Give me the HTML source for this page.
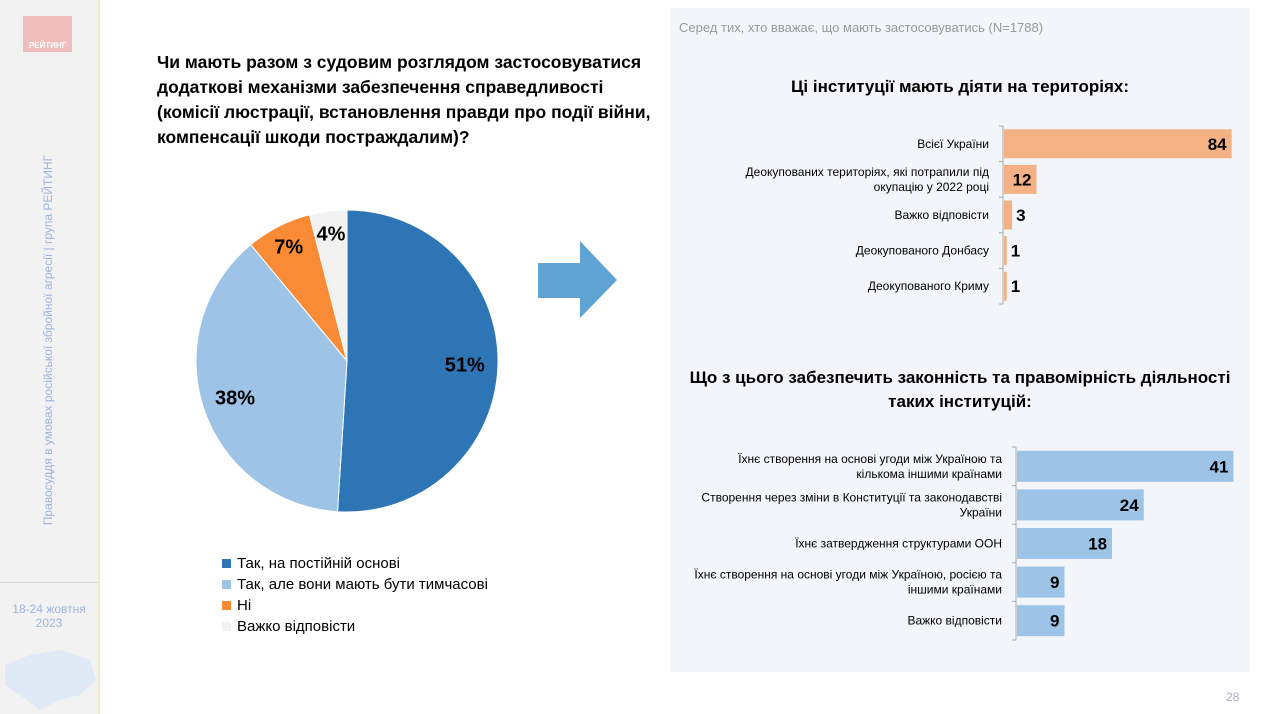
<!DOCTYPE html>
<html><head><meta charset="utf-8"><style>
body{margin:0;width:1271px;height:714px;position:relative;background:#fff;font-family:"Liberation Sans",sans-serif;overflow:hidden}
.abs{position:absolute}
</style></head><body>
<div class="abs" style="left:0;top:0;width:98px;height:714px;background:#f2f2f2;border-right:2px solid #fbe3c8"></div>
<div class="abs" style="left:23px;top:16px;width:49px;height:36px;background:#f0bcbc;color:#fff;font-size:8px;font-weight:bold;text-align:center;line-height:60px">РЕЙТИНГ</div>
<div class="abs" style="left:48px;top:340px;width:380px;transform:translate(-50%,-50%) rotate(-90deg);color:#9db3e0;font-size:12px;white-space:nowrap;text-align:center">Правосуддя в умовах російської збройної агресії | група РЕЙТИНГ</div>
<div class="abs" style="left:0;top:582px;width:98px;border-top:1px solid #d8d8d8"></div>
<div class="abs" style="left:0;top:602px;width:98px;text-align:center;color:#9db3e0;font-size:12px;line-height:14px">18-24 жовтня<br>2023</div>
<svg class="abs" style="left:0;top:645px" width="98" height="69"><path d="M5 20 L30 10 L60 5 L90 15 L96 35 L80 50 L60 55 L40 65 L20 50 L5 40Z" fill="#dfeaf6"/></svg>

<div class="abs" style="left:157px;top:50px;width:498px;font-size:17.5px;font-weight:bold;line-height:25px;color:#000">Чи мають разом з судовим розглядом застосовуватися додаткові механізми забезпечення справедливості (комісії люстрації, встановлення правди про події війни, компенсації шкоди постраждалим)?</div>

<svg class="abs" id="pie" style="left:0;top:0" width="660" height="714"></svg>

<div class="abs" style="left:222px;top:553px;font-size:15px;line-height:21px;color:#000">
<div><span style="display:inline-block;width:9px;height:9px;background:#2e75b6;margin-right:6px"></span>Так, на постійній основі</div>
<div><span style="display:inline-block;width:9px;height:9px;background:#9dc3e6;margin-right:6px"></span>Так, але вони мають бути тимчасові</div>
<div><span style="display:inline-block;width:9px;height:9px;background:#fa8b36;margin-right:6px"></span>Ні</div>
<div><span style="display:inline-block;width:9px;height:9px;background:#f2f2f2;margin-right:6px"></span>Важко відповісти</div>
</div>

<svg class="abs" style="left:538px;top:241px" width="80" height="78"><polygon points="0,22 42,22 42,0 79,39 42,77 42,57 0,57" fill="#5fa3d4"/></svg>

<div class="abs" style="left:670px;top:8px;width:580px;height:664px;background:#f2f6fa"></div>
<div class="abs" style="left:679px;top:20px;font-size:13px;color:#999">Серед тих, хто вважає, що мають застосовуватись (N=1788)</div>
<div class="abs" style="left:670px;top:77px;width:580px;text-align:center;font-size:17px;font-weight:bold">Ці інституції мають діяти на територіях:</div>
<div class="abs" style="left:670px;top:366px;width:580px;text-align:center;font-size:17px;font-weight:bold;line-height:24px">Що з цього забезпечить законність та правомірність діяльності таких інституцій:</div>
<svg class="abs" id="bars" style="left:0;top:0" width="1271" height="714"></svg>
<div class="abs" style="left:1226px;top:690px;font-size:12px;color:#aac">28</div>

<script>
const pieLabels=["Так, на постійній основі","Так, але вони мають бути тимчасові","Ні","Важко відповісти"];
const pieValues=[51,38,7,4];
const pieColors=["#2e75b6","#9dc3e6","#fa8b36","#f2f2f2"];
const cat1=["Всієї України","Деокупованих територіях, які потрапили під|окупацію у 2022 році","Важко відповісти","Деокупованого Донбасу","Деокупованого Криму"];
const val1=[84,12,3,1,1];
const cat2=["Їхнє створення на основі угоди між Україною та|кількома іншими країнами","Створення через зміни в Конституції та законодавстві|України","Їхнє затвердження структурами ООН","Їхнє створення на основі угоди між Україною, росією та|іншими країнами","Важко відповісти"];
const val2=[41,24,18,9,9];
const NS="http://www.w3.org/2000/svg";
function mk(p,t,a){const e=document.createElementNS(NS,t);for(const k in a)e.setAttribute(k,a[k]);p.appendChild(e);return e;}
const pie=document.getElementById('pie');
const cx=347,cy=361,r=151;
const tot=pieValues.reduce((a,b)=>a+b,0);
let ang=0;
pieValues.forEach((v,i)=>{
 const a0=ang/tot*2*Math.PI, a1=(ang+v)/tot*2*Math.PI;
 const x0=cx+r*Math.sin(a0),y0=cy-r*Math.cos(a0),x1=cx+r*Math.sin(a1),y1=cy-r*Math.cos(a1);
 const p=mk(pie,'path',{d:`M${cx},${cy}L${x0},${y0}A${r},${r} 0 ${v/tot>0.5?1:0} 1 ${x1},${y1}Z`,fill:pieColors[i],stroke:'#fff','stroke-width':1});
 
 
 const am=(a0+a1)/2, lr=i<2?r*0.78:r*0.85;
 const t=mk(pie,'text',{x:cx+lr*Math.sin(am),y:cy-lr*Math.cos(am)+7,'text-anchor':'middle','font-size':20,'font-weight':'bold',fill:'#000'});
 t.textContent=v+'%';
 
 
 ang+=v;
});
const bs=document.getElementById('bars');
function chart(cats,vals,x0,scale,y0,step,bh,color,name){
 mk(bs,'line',{x1:x0,y1:y0,x2:x0,y2:y0+step*cats.length,stroke:'#aaa'});
 for(let i=0;i<=cats.length;i++)mk(bs,'line',{x1:x0-4,y1:y0+i*step,x2:x0,y2:y0+i*step,stroke:'#aaa'});
 cats.forEach((c,i)=>{
  const cyy=y0+step*(i+0.5), w=vals[i]*scale;
  const b=mk(bs,'rect',{x:x0+1,y:cyy-bh/2,width:w,height:bh,fill:color});
  
  
  const inside=w>30;
  const t=mk(bs,'text',{x:inside?x0+w-4:x0+w+5,y:cyy+6,'text-anchor':inside?'end':'start','font-size':17,'font-weight':'bold'});
  t.textContent=vals[i];
  
  
  const lines=c.split('|');
  lines.forEach((ln,j)=>{
   const l=mk(bs,'text',{x:x0-14,y:cyy+4+(j-(lines.length-1)/2)*15,'text-anchor':'end','font-size':12,fill:'#000'});
   l.textContent=ln;
   
   
  });
 });
}
chart(cat1,val1,1003,2.71,126,35.6,29,'#f4b183','chart1');
chart(cat2,val2,1016,5.28,447,38.6,31,'#9dc3e6','chart2');
</script>
</body></html>
